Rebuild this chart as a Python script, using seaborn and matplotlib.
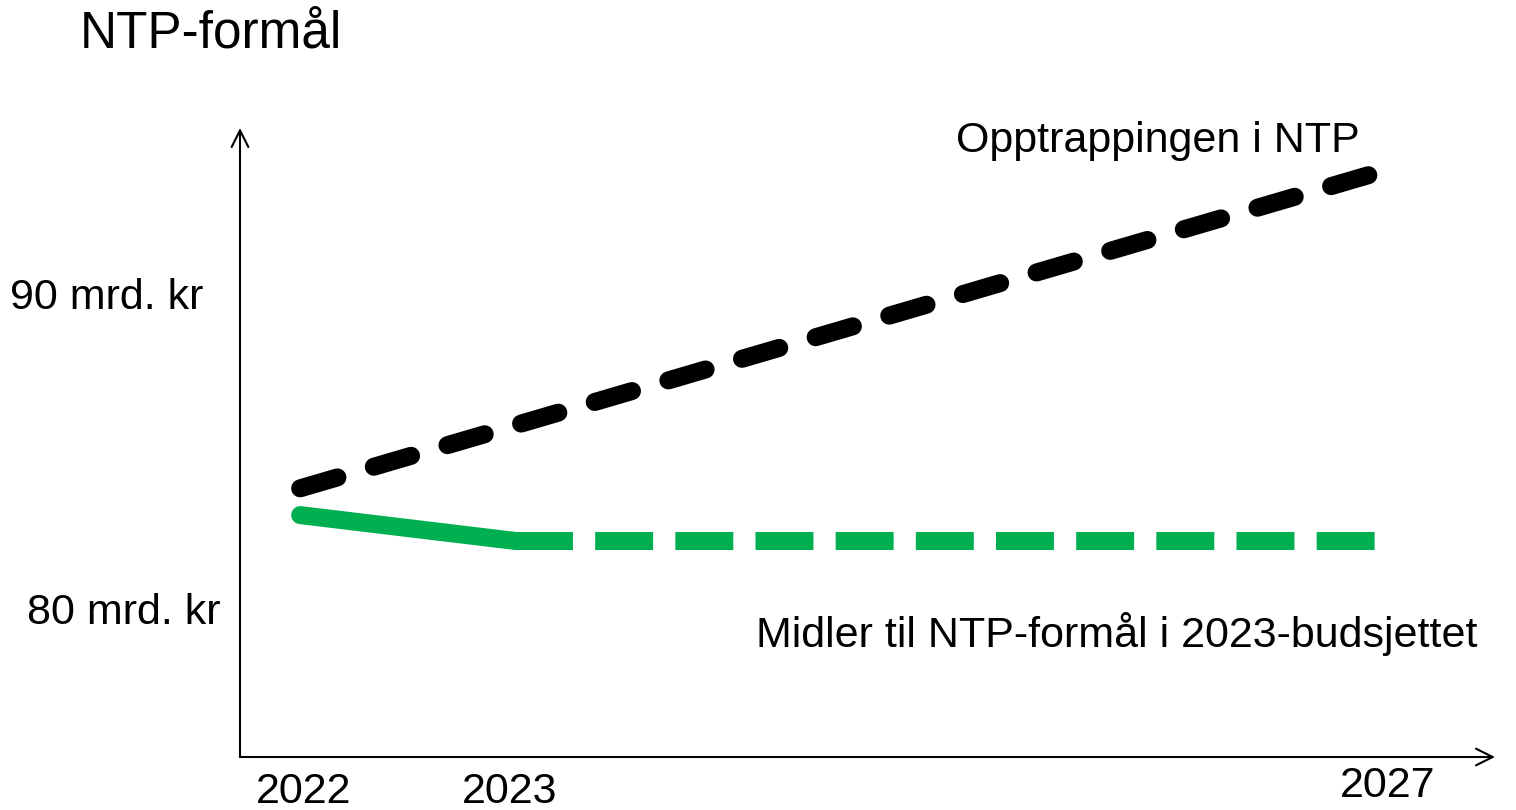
import pandas as pd
import matplotlib.pyplot as plt
import seaborn as sns

# data (mrd. kr, schematic)
years_ntp = [2022, 2027]
values_ntp = [83.8, 93.8]

years_budget_solid = [2022, 2023]
values_budget_solid = [82.95, 82.13]
years_budget_dashed = [2023, 2027]
values_budget_dashed = [82.13, 82.13]

x_ticks = [2022, 2023, 2027]
x_labels = ["2022", "2023", "2027"]
y_ticks = [80, 90]
y_labels = ["80 mrd. kr", "90 mrd. kr"]

sns.set_style("white")
plt.rcParams["font.family"] = ["Liberation Sans", "DejaVu Sans"]
plt.rcParams["text.color"] = "black"

green = "#00B050"

fig = plt.figure(figsize=(15.16, 8.1), dpi=100)
ax = fig.add_axes([240 / 1516, 1 - 757 / 810, (1495 - 240) / 1516, (757 - 128) / 810])

df_ntp = pd.DataFrame({"år": years_ntp, "verdi": values_ntp})
df_solid = pd.DataFrame({"år": years_budget_solid, "verdi": values_budget_solid})
df_dash = pd.DataFrame({"år": years_budget_dashed, "verdi": values_budget_dashed})

sns.lineplot(data=df_ntp, x="år", y="verdi", ax=ax, color="black", linewidth=13,
             linestyle=(0, (2.15, 2.1)), dash_capstyle="round")
sns.lineplot(data=df_solid, x="år", y="verdi", ax=ax, color=green, linewidth=13,
             solid_capstyle="round", solid_joinstyle="round")
sns.lineplot(data=df_dash, x="år", y="verdi", ax=ax, color=green, linewidth=13,
             linestyle=(0, (3.21, 1.23)), dash_capstyle="butt")

ax.set_xlim(2021.72, 2027.56)
ax.set_ylim(75.27, 95.24)
ax.set_xlabel("")
ax.set_ylabel("")

for s in ax.spines.values():
    s.set_visible(False)
ax.set_xticks([])
ax.set_yticks([])

# tick texts, nudged a little like in the original
for yr, lab, dx, dy in zip(x_ticks, x_labels, [3, -5, 13], [46, 46, 40]):
    ax.annotate(lab, xy=(yr, 0), xycoords=ax.get_xaxis_transform(),
                xytext=(dx, -dy), textcoords="offset pixels",
                ha="center", va="baseline", fontsize=31, annotation_clip=False)
for v, lab, dx in zip(y_ticks, y_labels, [-20, -37]):
    ax.annotate(lab, xy=(0, v), xycoords=ax.get_yaxis_transform(),
                xytext=(dx, -16), textcoords="offset pixels",
                ha="right", va="baseline", fontsize=31)

# arrow axes
ax.annotate("", xy=(0, 1), xytext=(0, 0), xycoords="axes fraction",
            arrowprops=dict(arrowstyle="->", lw=1.5, color="black", mutation_scale=30,
                            shrinkA=0, shrinkB=0), annotation_clip=False)
ax.annotate("", xy=(1, 0), xytext=(0, 0), xycoords="axes fraction",
            arrowprops=dict(arrowstyle="->", lw=1.5, color="black", mutation_scale=30,
                            shrinkA=0, shrinkB=0), annotation_clip=False)

ax.text(2025.99, 94.48, "Opptrappingen i NTP", ha="center", va="baseline", fontsize=31)
ax.text(2025.80, 78.76, "Midler til NTP-formål i 2023-budsjettet", ha="center",
        va="baseline", fontsize=31)

fig.text(80 / 1516, 1 - 48 / 810, "NTP-formål", ha="left", va="baseline", fontsize=37)

fig.savefig("out.png", dpi=100)
